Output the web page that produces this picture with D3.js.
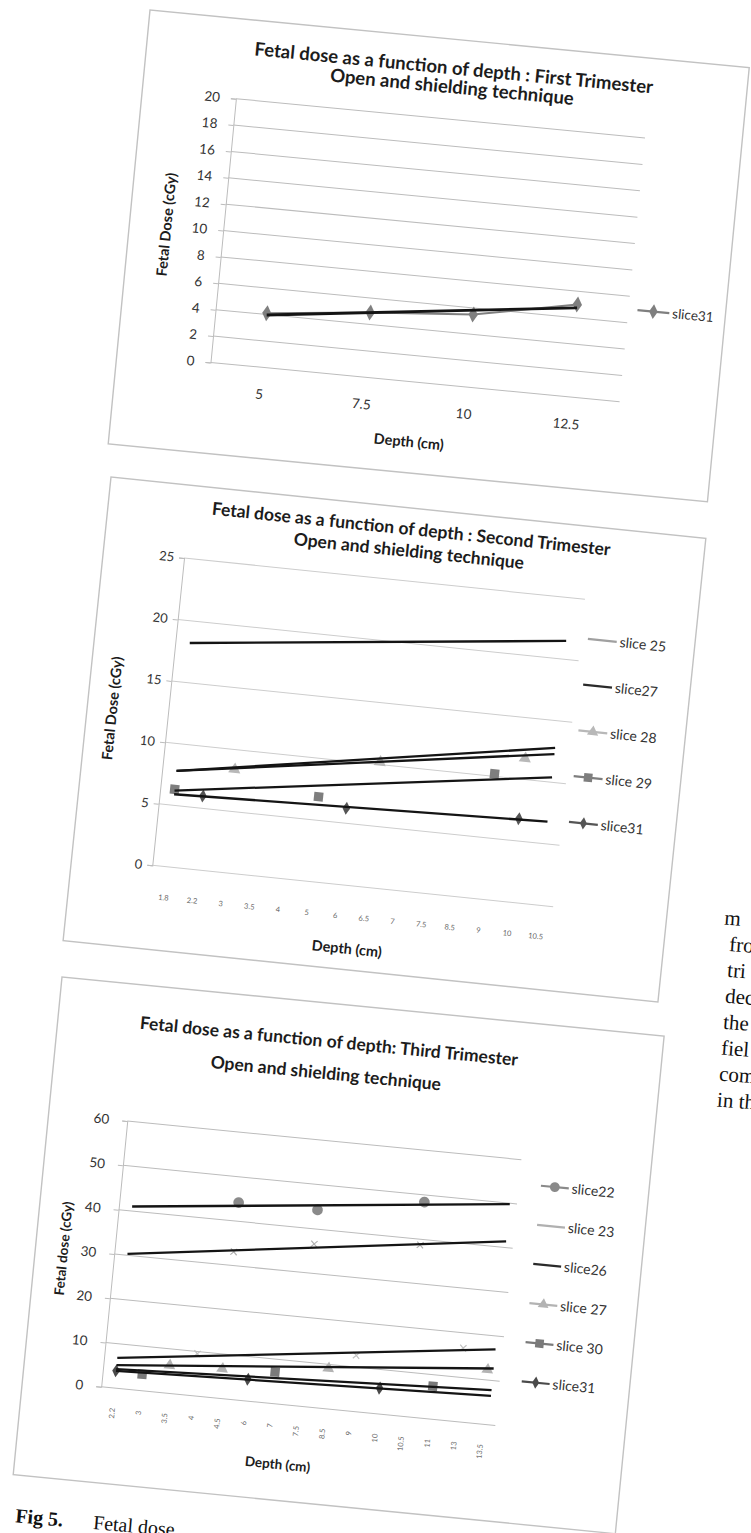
<!DOCTYPE html>
<html>
<head>
<meta charset="utf-8">
<script src="https://cdn.jsdelivr.net/npm/d3@7"></script>
<style>
  body { margin: 0; background: #fff; }
  svg { display: block; }
</style>
</head>
<body>
<svg id="page" width="751" height="1533"></svg>
<script>
// ---------- First trimester ----------
const depth1 = ["5", "7.5", "10", "12.5"];
const dose1Ticks = [0, 2, 4, 6, 8, 10, 12, 14, 16, 18, 20];
const series1 = ["slice31"];
const c1Slice31 = [4.1, 4.9, 5.5, 7.0];
const c1TrendStart = [3.97];
const c1TrendEnd = [6.75];

// ---------- Second trimester ----------
const depth2 = ["1.8", "2.2", "3", "3.5", "4", "5", "6", "6.5", "7", "7.5", "8.5", "9", "10", "10.5"];
const dose2Ticks = [0, 5, 10, 15, 20, 25];
const series2 = ["slice 25", "slice27", "slice 28", "slice 29", "slice31"];
const c2Slice28 = [null, null, 8.4, null, null, null, null, 10.2, null, null, null, null, 11.7, null];
const c2Slice29 = [6.3, null, null, null, null, 6.9, null, null, null, null, null, 10.2, null, null];
const c2Slice31 = [null, 6.0, null, null, null, null, 6.2, null, null, null, null, null, 6.8, null];
const c2TrendStart = [18.2, 7.8, 7.8, 6.2, 5.9];
const c2TrendEnd = [21.5, 12.8, 12.3, 10.4, 6.8];

// ---------- Third trimester ----------
const depth3 = ["2.2", "3", "3.5", "4", "4.5", "6", "7", "7.5", "8.5", "9", "10", "10.5", "11", "13", "13.5"];
const dose3Ticks = [0, 10, 20, 30, 40, 50, 60];
const series3 = ["slice22", "slice 23", "slice26", "slice 27", "slice 30", "slice31"];
const c3Slice22 = [null, null, null, null, 44.2, null, null, 44.3, null, null, null, 48.4, null, null, null];
const c3Slice23 = [null, null, null, null, 33.1, null, null, 36.6, null, null, null, 38.7, null, null, null];
const c3Slice26 = [null, null, null, 9.5, null, null, null, null, null, 12.6, null, null, null, 16.6, null];
const c3Slice27 = [null, null, 6.3, null, 6.7, null, null, null, 9.1, null, null, null, null, null, 12.3];
const c3Slice30 = [null, 3.7, null, null, null, null, 7.1, null, null, null, null, null, 7.4, null, null];
const c3Slice31 = [3.9, null, null, null, null, 4.9, null, null, null, null, 5.8, null, null, null, null];
const c3TrendStart = [41.0, 30.3, 6.8, 5.2, 4.3, 3.9];
const c3TrendEnd = [49.8, 41.4, 17.0, 12.7, 7.8, 6.5];

// ---------- surrounding page text ----------
const bodyWords = ["m", "fro", "tri", "dec", "the", "fiel", "com", "in th"];

// ---------- drawing ----------
const svg = d3.select("#page");
const SANS = "Lato, 'Open Sans', sans-serif";
const SERIF = "'Liberation Serif', 'DejaVu Serif', serif";

const styles = {
  text: "#1c1c1c",
  tick: "#333",
  grid: "#bcbcbc",
  frame: "#c2c2c2",
  trend: "#141414"
};

function markerPath(shape, size) {
  const sym = {
    diamond: d3.symbolDiamond, square: d3.symbolSquare, triangle: d3.symbolTriangle,
    circle: d3.symbolCircle, x: d3.symbolX
  }[shape];
  return d3.symbol().type(sym).size(size)();
}

function drawChart(spec) {
  const g = svg.append("g")
    .attr("transform", `translate(${spec.origin[0]},${spec.origin[1]}) rotate(${spec.angle})`);

  g.append("rect")
    .attr("width", spec.box[0]).attr("height", spec.box[1])
    .attr("fill", "#fff").attr("stroke", styles.frame).attr("stroke-width", 1.4);

  const x = d3.scaleBand().domain(spec.cats).range([spec.plot.x0, spec.plot.x1]);
  const y = d3.scaleLinear().domain([0, spec.yMax]).range([spec.plot.y1, spec.plot.y0]);
  const cx = c => x(c) + x.bandwidth() / 2;

  // chart title
  spec.title.forEach((t, i) => {
    g.append("text").attr("x", spec.titleX).attr("y", spec.titleY[i])
      .attr("text-anchor", "middle").attr("font-family", SANS)
      .attr("font-weight", "bold").attr("font-size", spec.titleSize)
      .attr("fill", styles.text).text(t);
  });

  // horizontal gridlines
  g.append("g").selectAll("line").data(spec.yTicks).join("line")
    .attr("x1", spec.plot.x0).attr("x2", spec.plot.x1)
    .attr("y1", d => y(d)).attr("y2", d => y(d))
    .attr("stroke", spec.gridColor || styles.grid).attr("stroke-width", 1);

  // value axis
  const yAxis = g.append("g").attr("transform", `translate(${spec.plot.x0},0)`)
    .call(d3.axisLeft(y).tickValues(spec.yTicks).tickSize(5).tickPadding(spec.tickPad));
  yAxis.select(".domain").attr("stroke", styles.grid);
  yAxis.selectAll(".tick line").attr("stroke", styles.grid);
  yAxis.selectAll(".tick text")
    .attr("font-family", SANS).attr("font-size", spec.yTickSize).attr("fill", styles.tick);

  // category labels
  const xl = g.append("g").selectAll("text").data(spec.cats).join("text")
    .attr("font-family", SANS).attr("font-size", spec.xTickSize)
    .attr("fill", spec.xTickColor || styles.tick).text(d => d);
  if (spec.xTickRotate) {
    xl.attr("text-anchor", "end").attr("dy", "0.35em")
      .attr("transform", d => `translate(${cx(d)},${spec.xLabelY}) rotate(-90)`);
  } else {
    xl.attr("text-anchor", "middle").attr("dy", "0.35em")
      .attr("x", d => cx(d)).attr("y", spec.xLabelY);
  }

  // axis titles
  g.append("text").attr("x", spec.xTitle[0]).attr("y", spec.xTitle[1])
    .attr("text-anchor", "middle").attr("dy", "0.35em")
    .attr("font-family", SANS).attr("font-weight", "bold")
    .attr("font-size", spec.axisTitleSize).attr("fill", styles.text).text(spec.xTitleText);
  g.append("text")
    .attr("transform", `translate(${spec.yTitle[0]},${spec.yTitle[1]}) rotate(-90)`)
    .attr("text-anchor", "middle").attr("dy", "0.35em")
    .attr("font-family", SANS).attr("font-weight", "bold")
    .attr("font-size", spec.axisTitleSize).attr("fill", styles.text).text(spec.yTitleText);

  // series: connecting line (only where points are adjacent) and markers
  spec.series.forEach(s => {
    if (!s.values) return;
    const pts = s.values.map((v, i) => ({ c: spec.cats[i], v })).filter(p => p.v != null);
    if (s.joinLine) {
      g.append("path").datum(pts)
        .attr("fill", "none").attr("stroke", s.color).attr("stroke-width", 2)
        .attr("d", d3.line().x(p => cx(p.c)).y(p => y(p.v)));
    }
    if (s.marker) {
      g.append("g").selectAll("path").data(pts).join("path")
        .attr("transform", p => `translate(${cx(p.c)},${y(p.v)})`)
        .attr("d", markerPath(s.marker, s.markerSize))
        .attr("fill", s.marker === "x" ? "none" : s.color)
        .attr("stroke", s.marker === "x" ? s.color : "none")
        .attr("stroke-width", 1.2);
    }
  });

  // linear trendlines spanning the category range
  const first = spec.cats[0], last = spec.cats[spec.cats.length - 1];
  spec.series.forEach(s => {
    g.append("line")
      .attr("x1", cx(first)).attr("x2", cx(last) + spec.trendExtend)
      .attr("y1", y(s.trend[0])).attr("y2", y(s.trend[1]))
      .attr("stroke", styles.trend).attr("stroke-width", spec.trendWidth);
  });

  // legend
  const lg = g.append("g");
  spec.series.forEach((s, i) => {
    const ly = spec.legend.y0 + i * spec.legend.dy;
    const lx = spec.legend.x;
    lg.append("line").attr("x1", lx).attr("x2", lx + spec.legend.len)
      .attr("y1", ly).attr("y2", ly)
      .attr("stroke", s.legendColor || s.color).attr("stroke-width", 2.2);
    if (s.marker && s.marker !== "x") {
      lg.append("path").attr("transform", `translate(${lx + spec.legend.len / 2},${ly})`)
        .attr("d", markerPath(s.marker, s.markerSize * 0.85)).attr("fill", s.color);
    }
    lg.append("text").attr("x", lx + spec.legend.len + 3).attr("y", ly).attr("dy", "0.35em")
      .attr("font-family", SANS).attr("font-size", spec.legend.size)
      .attr("fill", styles.tick).text(s.name);
  });
}

// ---- body text column at the right edge ----
const body = svg.append("g").attr("transform", "rotate(4.5, 728, 1000)");
body.append("text").attr("x", 739).attr("y", 797)
  .attr("font-family", SERIF).attr("font-weight", "bold")
  .attr("font-size", 22).attr("fill", "#111").text("F");
body.selectAll("text.w").data(bodyWords).join("text").attr("class", "w")
  .attr("x", (d, i) => (i === 0 ? 718 : 725)).attr("y", (d, i) => 925 + i * 26)
  .attr("font-family", SERIF).attr("font-size", 21).attr("fill", "#111").text(d => d);

// ---- figure caption ----
const cap = svg.append("g").attr("transform", "translate(0,1521) rotate(5)");
cap.append("text").attr("x", 15).attr("y", 0)
  .attr("font-family", SERIF).attr("font-weight", "bold")
  .attr("font-size", 20).attr("fill", "#111").text("Fig 5.");
cap.append("text").attr("x", 93).attr("y", 0)
  .attr("font-family", SERIF).attr("font-size", 20).attr("fill", "#111")
  .text("Fetal dose");

// ---- the three charts ----
drawChart({
  origin: [150, 10], angle: 5.5, box: [602, 436],
  cats: depth1, yMax: 20, yTicks: dose1Ticks,
  plot: { x0: 94, x1: 505, y0: 80, y1: 345 },
  title: ["Fetal dose as a function of depth : First Trimester", "Open and shielding technique"],
  titleX: 308, titleY: [35, 54], titleSize: 18.5,
  tickPad: 11, yTickSize: 13.5, xTickSize: 13.5, xLabelY: 372,
  xTitleText: "Depth (cm)", xTitle: [299, 405], axisTitleSize: 14.5,
  yTitleText: "Fetal Dose (cGy)", yTitle: [37, 212],
  trendWidth: 2.8, trendExtend: 0,
  series: [
    { name: series1[0], values: c1Slice31, trend: [c1TrendStart[0], c1TrendEnd[0]], color: "#7f7f7f", marker: "diamond", markerSize: 75, joinLine: true }
  ],
  legend: { x: 514, y0: 252, dy: 0, len: 32, size: 13.5 }
});

drawChart({
  origin: [111, 477], angle: 5.9, box: [598, 466],
  cats: depth2, yMax: 25, yTicks: dose2Ticks, gridColor: "#cdcdcd",
  plot: { x0: 81, x1: 484, y0: 73, y1: 382 },
  title: ["Fetal dose as a function of depth : Second Trimester", "Open and shielding  technique"],
  titleX: 304, titleY: [27, 49], titleSize: 17.5,
  tickPad: 5, yTickSize: 13, xTickSize: 7.5, xLabelY: 413, xTickColor: "#6a6a6a",
  xTitleText: "Depth (cm)", xTitle: [283, 445], axisTitleSize: 14.5,
  yTitleText: "Fetal Dose (cGy)", yTitle: [25, 230],
  trendWidth: 2.3, trendExtend: 0,
  series: [
    { name: series2[0], trend: [c2TrendStart[0], c2TrendEnd[0]], color: "#a0a0a0" },
    { name: series2[1], trend: [c2TrendStart[1], c2TrendEnd[1]], color: "#2a2a2a" },
    { name: series2[2], values: c2Slice28, trend: [c2TrendStart[2], c2TrendEnd[2]], color: "#b8b8b8", marker: "triangle", markerSize: 65 },
    { name: series2[3], values: c2Slice29, trend: [c2TrendStart[3], c2TrendEnd[3]], color: "#7e7e7e", marker: "square", markerSize: 85 },
    { name: series2[4], values: c2Slice31, trend: [c2TrendStart[4], c2TrendEnd[4]], color: "#555", marker: "diamond", markerSize: 50 }
  ],
  legend: { x: 491, y0: 112, dy: 46, len: 29, size: 14 }
});

drawChart({
  origin: [62, 977], angle: 5.6, box: [605, 500],
  cats: depth3, yMax: 60, yTicks: dose3Ticks,
  plot: { x0: 79, x1: 475, y0: 137, y1: 404 },
  title: ["Fetal dose as a function of depth: Third Trimester", "Open and shielding technique"],
  titleX: 272, titleY: [44, 76], titleSize: 17.5,
  tickPad: 13, yTickSize: 13.5, xTickSize: 7.5, xLabelY: 424, xTickRotate: true, xTickColor: "#6a6a6a",
  xTitleText: "Depth (cm)", xTitle: [262, 464], axisTitleSize: 13.5,
  yTitleText: "Fetal dose (cGy)", yTitle: [28, 270],
  trendWidth: 2.3, trendExtend: 6,
  series: [
    { name: series3[0], values: c3Slice22, trend: [c3TrendStart[0], c3TrendEnd[0]], color: "#8a8a8a", marker: "circle", markerSize: 90 },
    { name: series3[1], values: c3Slice23, trend: [c3TrendStart[1], c3TrendEnd[1]], color: "#b0b0b0", marker: "x", markerSize: 28 },
    { name: series3[2], values: c3Slice26, trend: [c3TrendStart[2], c3TrendEnd[2]], color: "#c0c0c0", legendColor: "#2a2a2a", marker: "x", markerSize: 28 },
    { name: series3[3], values: c3Slice27, trend: [c3TrendStart[3], c3TrendEnd[3]], color: "#b3b3b3", marker: "triangle", markerSize: 60 },
    { name: series3[4], values: c3Slice30, trend: [c3TrendStart[4], c3TrendEnd[4]], color: "#7a7a7a", marker: "square", markerSize: 85 },
    { name: series3[5], values: c3Slice31, trend: [c3TrendStart[5], c3TrendEnd[5]], color: "#4a4a4a", marker: "diamond", markerSize: 50 }
  ],
  legend: { x: 497, y0: 161, dy: 39.3, len: 28, size: 14 }
});
</script>
</body>
</html>
